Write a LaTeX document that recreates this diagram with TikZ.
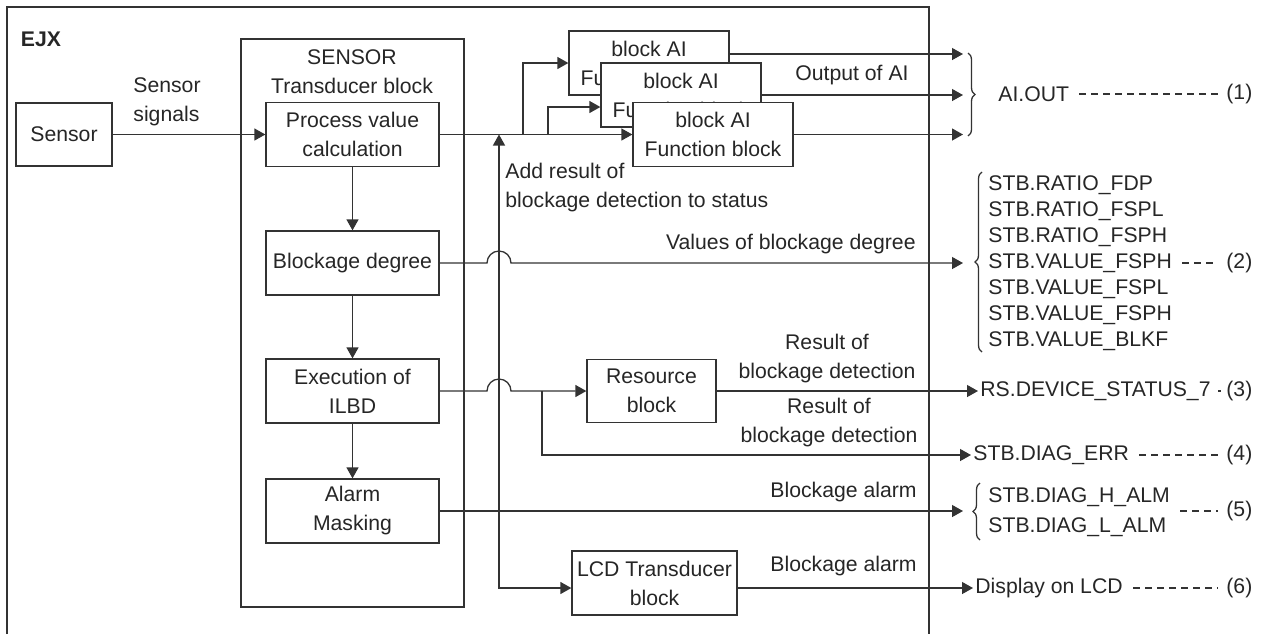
\documentclass[tikz,border=0pt]{standalone}
\usepackage{fontspec}
\setmainfont{Liberation Sans}
\usetikzlibrary{arrows.meta, positioning, calc, decorations.pathreplacing}

\tikzset{
  blk/.style={draw=black!80, fill=white, line width=0.65pt, align=center, inner sep=0pt,
    minimum height=32pt, text=black!85},
  wire/.style={line width=0.65pt, draw=black!80},
  arr/.style={wire, -{Triangle[length=5.5pt,width=6pt]}},
  lbl/.style={align=center, inner sep=0pt, text=black!85},
  sig/.style={anchor=west, inner sep=1pt, text=black!85},
  dashline/.style={wire, dash pattern=on 3.5pt off 2.5pt, shorten <=4pt, shorten >=3pt},
  brc/.style={wire, decorate, decoration={brace, amplitude=3.5pt}}
}

\begin{document}
\begin{tikzpicture}[x=0.5pt, y=-0.5pt, font=\fontsize{10.6pt}{14.5pt}\selectfont]
  \useasboundingbox (0,0) rectangle (1279,634);
  % device frame
  \draw[wire] (7,634) -- (7,7) -- (929,7) -- (929,634);
  \node[lbl, font=\fontsize{10.6pt}{14.5pt}\selectfont\bfseries] (ejx) at (41,39) {EJX};

  % sensor and transducer block
  \node[blk, minimum width=48pt, minimum height=31.5pt] (sensor) at (64,134.5) {Sensor};
  \node[lbl, align=left] (sigtxt) at (167,102) {Sensor\\signals};
  \draw[wire] (241,39) rectangle (464,607);
  \node[lbl] (sensortitle) at (352,72) {SENSOR\\Transducer block};
  \node[blk, minimum width=86.5pt] (pvcalc) at (352.5,134.5) {Process value\\calculation};
  \node[blk, minimum width=86.5pt] (blkdeg) at (352.5,263) {Blockage degree};
  \node[blk, minimum width=86.5pt] (ilbd) at (352.5,391) {Execution of\\ILBD};
  \node[blk, minimum width=86.5pt] (alarm) at (352.5,511) {Alarm\\Masking};

  % function blocks
  \node[blk, minimum width=80pt] (aiA) at (649,63) {block AI\\Function block};
  \node[blk, minimum width=80pt] (aiB) at (681,95) {block AI\\Function block};
  \node[blk, minimum width=80pt] (aiC) at (713,134.5) {block AI\\Function block};
  \node[blk, minimum width=64.5pt, minimum height=31.5pt] (resblk) at (651.5,391) {Resource\\block};
  \node[blk, minimum width=82.5pt] (lcdblk) at (654.5,583) {LCD Transducer\\block};

  % labels on the lines
  \node[lbl, align=left, anchor=west] (addtxt) at (505,188) {Add result of\\blockage detection to status};
  \node[lbl] (outtxt) at (852,75) {Output of AI};
  \node[lbl, anchor=east] (valtxt) at (916,244) {Values of blockage degree};
  \node[lbl] (restxtA) at (827,359) {Result of\\blockage detection};
  \node[lbl] (restxtB) at (829,423) {Result of\\blockage detection};
  \node[lbl, anchor=east] (almtxtA) at (917,492) {Blockage alarm};
  \node[lbl, anchor=east] (almtxtB) at (917,566) {Blockage alarm};

  % parameters
  \node[sig] (aiout) at (996,94) {AI.OUT};
  \node[sig] (num1) at (1224,94) {(1)};
  \foreach \txt [count=\i] in {STB.RATIO\_FDP, STB.RATIO\_FSPL, STB.RATIO\_FSPH,
      STB.VALUE\_FSPH, STB.VALUE\_FSPL, STB.VALUE\_FSPH, STB.VALUE\_BLKF}
    \node[sig] (stb\i) at (986,{159+26*\i}) {\txt};
  \node[sig] (num2) at (1224,263) {(2)};
  \node[sig] (rsdev) at (978,391) {RS.DEVICE\_STATUS\_7};
  \node[sig] (num3) at (1224,391) {(3)};
  \node[sig] (diagerr) at (971,455) {STB.DIAG\_ERR};
  \node[sig] (num4) at (1224,455) {(4)};
  \node[sig] (almH) at (986,497) {STB.DIAG\_H\_ALM};
  \node[sig] (almL) at (986,527) {STB.DIAG\_L\_ALM};
  \node[sig] (num5) at (1224,511) {(5)};
  \node[sig] (lcddisp) at (973,588) {Display on LCD};
  \node[sig] (num6) at (1224,588) {(6)};

  \draw[brc] (968,53) -- (968,136);
  \draw[brc] (982,352) -- (982,172);
  \draw[brc] (980,540) -- (980,483);

  \draw[dashline] (aiout.east) -- (num1.west);
  \draw[dashline] (stb4.east) -- (num2.west);
  \draw[dashline] (rsdev.east) -- (num3.west);
  \draw[dashline] (diagerr.east) -- (num4.west);
  \draw[dashline] (almH.east |- num5.west) -- (num5.west);
  \draw[dashline] (lcddisp.east) -- (num6.west);

  % connectors
  \coordinate (tapA) at (523,134.5);
  \coordinate (tapB) at (548,134.5);
  \coordinate (errtap) at (542,391);
  \coordinate (vtap) at (499,511);
  \coordinate (brin1) at (963,54);
  \coordinate (brin2) at (963,95);
  \coordinate (brin3) at (963,134.5);
  \coordinate (brin4) at (963,263);
  \coordinate (brin5) at (963,511);

  \draw[arr] (sensor) -- (pvcalc);
  \draw[arr] (pvcalc) -- (blkdeg);
  \draw[arr] (blkdeg) -- (ilbd);
  \draw[arr] (ilbd) -- (alarm);
  \draw[arr] (pvcalc.east) -- (aiC.west);
  \draw[arr] (tapA) |- (aiA.west);
  \draw[arr] (tapB) |- ($(aiB.west)+(0,12)$);
  \draw[arr] ($(aiA.east)+(0,-9)$) -- (brin1);
  \draw[arr] (aiB.east) -- (brin2);
  \draw[arr] (aiC.east) -- (brin3);
  \draw[arr] (blkdeg.east) -- ($(blkdeg.east -| vtap)+(-12,0)$)
    arc[start angle=180, end angle=0, radius=6pt] -- (brin4);
  \draw[arr] (ilbd.east) -- ($(ilbd.east -| vtap)+(-12,0)$)
    arc[start angle=180, end angle=0, radius=6pt] -- (resblk.west);
  \draw[arr] (errtap) |- (diagerr.west);
  \draw[arr] (resblk.east) -- (rsdev.west);
  \draw[arr] (alarm.east) -- (brin5);
  \draw[arr] (vtap) -- (vtap |- pvcalc.east);
  \draw[arr] (vtap) |- ($(lcdblk.west)+(0,5)$);
  \draw[arr] ($(lcdblk.east)+(0,5)$) -- (lcddisp.west);
\end{tikzpicture}
\end{document}
